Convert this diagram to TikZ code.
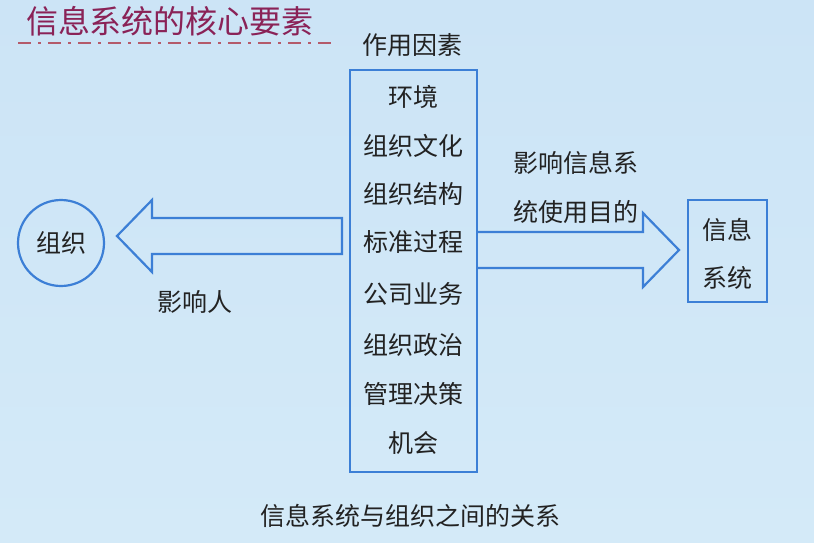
\documentclass[tikz,border=0pt]{standalone}
\usepackage{fontspec}
\setmainfont{Noto Sans CJK SC}
\begin{document}
\begin{tikzpicture}[x=1pt,y=-1pt,
  bl/.style={draw=blueline,line width=2.2pt},
  item/.style={font=\fontsize{25}{27}\selectfont,text=txt,inner sep=0pt}]
\definecolor{bg}{HTML}{D4EAF8}
\definecolor{bgtop}{HTML}{CCE4F6}
\definecolor{blueline}{HTML}{3C7FD6}
\definecolor{titlec}{HTML}{8A2257}
\definecolor{txt}{HTML}{222222}
\definecolor{dashc}{HTML}{B45A6A}
\shade[top color=bgtop,bottom color=bg] (0,0) rectangle (814,542);
\useasboundingbox (0,0) rectangle (814,542);
% title
\node[font=\fontsize{32}{34}\selectfont,text=titlec,inner sep=0pt] (title) at (170,21) {信息系统的核心要素};
\coordinate (d1) at (18,43);
\coordinate (d2) at (332,43);
\draw[dashc,line width=2pt,dash pattern=on 13pt off 7pt on 3pt off 7pt] (d1) -- (d2);
% central box
\node[bl,minimum width=127pt,minimum height=402pt,inner sep=0pt] (box) at (413.5,271) {};
\node[item] (hdr) at (412,45) {作用因素};
\node[item] (i1) at (413,97) {环境};
\node[item] (i2) at (413,146) {组织文化};
\node[item] (i3) at (413,194) {组织结构};
\node[item] (i4) at (413,242) {标准过程};
\node[item] (i5) at (413,294) {公司业务};
\node[item] (i6) at (413,345) {组织政治};
\node[item] (i7) at (413,394) {管理决策};
\node[item] (i8) at (413,443) {机会};
% circle
\node[bl,circle,minimum size=86pt,inner sep=0pt,item] (org) at (61,243) {组织};
% left arrow
\draw[bl,line join=miter] (342,218) -- (152,218) -- (152,200) -- (117,236) -- (152,272) -- (152,254) -- (342,254) -- cycle;
\node[item] (l1) at (195,302) {影响人};
% right arrow
\draw[bl,line join=miter] (box.east |- 0,232) -- (643,232) -- (643,213) -- (679,250) -- (643,287) -- (643,268) -- (box.east |- 0,268);
\node[item] (r1) at (576,163) {影响信息系};
\node[item] (r2) at (576,212) {统使用目的};
% right box
\node[bl,minimum width=79pt,minimum height=102pt,inner sep=0pt] (is) at (727.5,251) {};
\node[item] (is1) at (727,230) {信息};
\node[item] (is2) at (727,278) {系统};
% caption
\node[item] (cap) at (410,516) {信息系统与组织之间的关系};
\end{tikzpicture}
\end{document}
